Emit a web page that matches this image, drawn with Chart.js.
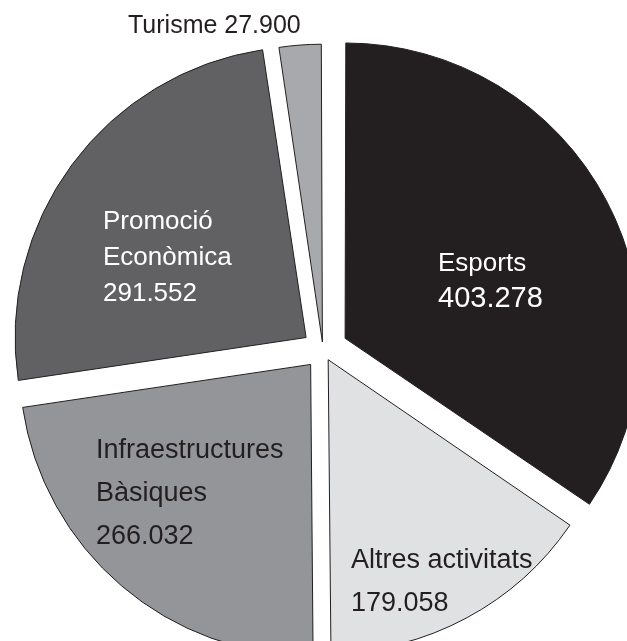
<!DOCTYPE html>
<html>
<head>
<meta charset="utf-8">
<script src="https://cdn.jsdelivr.net/npm/chart.js@4.4.1/dist/chart.umd.min.js"></script>
<style>
  html, body { margin: 0; padding: 0; background: #ffffff; }
  #wrap { width: 627px; height: 641px; overflow: hidden; }
</style>
</head>
<body>
<div id="wrap"><canvas id="myChart" width="627" height="641"></canvas></div>
<script>
// Dades (en euros), ordre horari des de les 12
var categories = [['Esports'], ['Altres activitats'], ['Infraestructures', 'Bàsiques'], ['Promoció', 'Econòmica'], ['Turisme']];
var values = [403278, 179058, 266032, 291552, 27900];
var colors = ['#231f20', '#e0e1e3', '#939598', '#616163', '#a7a9ac'];

// desplaçament de cada porció (Chart.js el divideix per 4)
var offsets = [100, 44, 76, 84, 32];

// on va el text de cada porció, respecte al centre del pastís
var labelStyle = [
    { dx: 115, dy: -79, lh: 36, sizes: [26, 29], color: '#ffffff' },
    { dx: 28, dy: 218, lh: 43, sizes: [27, 27], color: '#231f20' },
    { dx: -227, dy: 108, lh: 43, sizes: [27, 27, 27], color: '#231f20' },
    { dx: -220, dy: -121, lh: 36, sizes: [26, 26, 26], color: '#ffffff' },
    { dx: -195, dy: -317, lh: 0, sizes: [25], color: '#231f20', inline: true }
];

function formatNumber(n) {
    return String(n).replace(/\B(?=(\d{3})+(?!\d))/g, '.');
}

var sliceLabels = {
    id: 'sliceLabels',
    afterDatasetsDraw: function (chart) {
        var ctx = chart.ctx;
        var arc = chart.getDatasetMeta(0).data[0];
        ctx.save();
        ctx.textAlign = 'left';
        ctx.textBaseline = 'alphabetic';
        categories.forEach(function (cat, i) {
            var st = labelStyle[i];
            var lines = st.inline ? [cat.join(' ') + ' ' + formatNumber(values[i])] : cat.concat([formatNumber(values[i])]);
            ctx.fillStyle = st.color;
            lines.forEach(function (line, j) {
                ctx.font = st.sizes[j] + 'px "Liberation Sans", Arial, sans-serif';
                ctx.fillText(line, arc.x + st.dx, arc.y + st.dy + j * st.lh);
            });
        });
        ctx.restore();
    }
};

var ctx = document.getElementById('myChart').getContext('2d');
var myChart = new Chart(ctx, {
    type: 'pie',
    data: {
        labels: categories,
        datasets: [{
            data: values,
            backgroundColor: colors,
            borderColor: '#231f20',
            borderWidth: 1,
            offset: offsets,
            radius: 291
        }]
    },
    options: {
        responsive: false,
        animation: false,
        layout: { padding: { left: 19, top: 59, right: 0, bottom: 0 } },
        plugins: {
            legend: { display: false },
            tooltip: { enabled: false }
        }
    },
    plugins: [sliceLabels]
});
</script>
</body>
</html>
